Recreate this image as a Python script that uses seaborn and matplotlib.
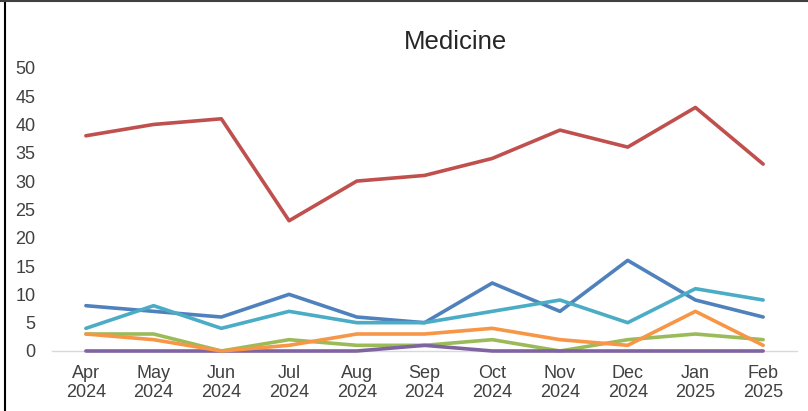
import matplotlib
matplotlib.use("Agg")
import matplotlib.pyplot as plt
import seaborn as sns
import pandas as pd
from matplotlib.lines import Line2D

months = ["Apr\n2024", "May\n2024", "Jun\n2024", "Jul\n2024", "Aug\n2024", "Sep\n2024",
          "Oct\n2024", "Nov\n2024", "Dec\n2024", "Jan\n2025", "Feb\n2025"]

series_a = [8, 7, 6, 10, 6, 5, 12, 7, 16, 9, 6]
series_b = [38, 40, 41, 23, 30, 31, 34, 39, 36, 43, 33]
series_c = [3, 3, 0, 2, 1, 1, 2, 0, 2, 3, 2]
series_d = [0, 0, 0, 0, 0, 1, 0, 0, 0, 0, 0]
series_e = [4, 8, 4, 7, 5, 5, 7, 9, 5, 11, 9]
series_f = [3, 2, 0, 1, 3, 3, 4, 2, 1, 7, 1]

names = ["A", "B", "C", "D", "E", "F"]
values = [series_a, series_b, series_c, series_d, series_e, series_f]
colors = ["#4F81BD", "#C0504D", "#9BBB59", "#8064A2", "#4BACC6", "#F79646"]

rows = []
for n, vals in zip(names, values):
    for m, v in zip(months, vals):
        rows.append({"month": m, "count": v, "series": n})
df = pd.DataFrame(rows)

sns.set_theme(style="white")
plt.rcParams["font.family"] = ["Liberation Sans", "DejaVu Sans"]

fig = plt.figure(figsize=(8.08, 4.11), dpi=100)
ax = fig.add_axes([0.0644, 0.146, 0.922, 0.689])

sns.lineplot(data=df, x="month", y="count", hue="series", hue_order=names,
             palette=dict(zip(names, colors)), linewidth=2.6, sort=False,
             legend=False, ax=ax)
for ln in ax.lines:
    ln.set_clip_on(False)

ax.set_xlim(-0.5, len(months) - 0.5)
ax.set_ylim(0, 50)
ax.set_yticks(range(0, 51, 5))
ax.set_xlabel("")
ax.set_ylabel("")
for s in ["top", "right", "left"]:
    ax.spines[s].set_visible(False)
ax.spines["bottom"].set_color("#D9D9D9")
ax.spines["bottom"].set_linewidth(1)
ax.spines["bottom"].set_zorder(0)
ax.tick_params(axis="both", length=0, labelsize=13, colors="#404040")
ax.tick_params(axis="y", pad=12)
ax.tick_params(axis="x", pad=10)
for lbl in ax.get_xticklabels():
    lbl.set_linespacing(1.2)

fig.text(456 / 808, 1 - 42 / 411, "Medicine", ha="center", va="center",
         fontsize=18.5, color="#262626")

# outer frame edges
fig.add_artist(Line2D([4.5 / 808, 4.5 / 808], [0, 1], transform=fig.transFigure,
                      color="black", linewidth=1.5))
fig.add_artist(Line2D([0, 1], [1 - 0.8 / 411, 1 - 0.8 / 411], transform=fig.transFigure,
                      color="#404040", linewidth=1.5))

fig.savefig("out.png", dpi=100)
